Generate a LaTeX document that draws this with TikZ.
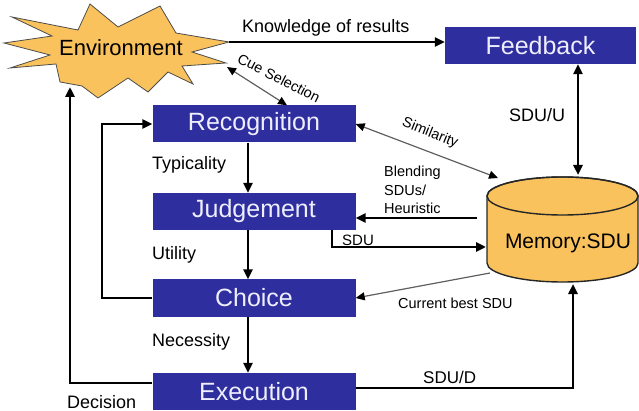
\documentclass[tikz,border=0pt]{standalone}
\usepackage{fontspec}
\setmainfont{Liberation Sans}
\usetikzlibrary{arrows.meta}

\definecolor{boxblue}{RGB}{46,46,158}
\definecolor{boxtext}{RGB}{238,238,255}
\definecolor{burst}{RGB}{250,194,92}
\definecolor{thinline}{RGB}{95,95,95}

\begin{document}
\begin{tikzpicture}[
  x=1pt, y=-1pt,
  >={Triangle[length=10pt,width=9pt]},
  stage/.style={rectangle,fill=boxblue,text=boxtext,minimum width=203pt,minimum height=37pt,inner sep=0pt,font=\fontsize{25}{28}\selectfont},
  lab/.style={anchor=west,inner sep=0pt,font=\fontsize{18}{20}\selectfont},
  small/.style={inner sep=0pt,font=\fontsize{14.5}{18.5}\selectfont},
  flow/.style={line width=2.6pt},
  link/.style={line width=1.2pt,draw=thinline,
    {Triangle[length=9pt,width=8pt,color=black]}-{Triangle[length=9pt,width=8pt,color=black]}}
]
\useasboundingbox (0,0) rectangle (639,411);

% environment burst
\filldraw[fill=burst,draw=black!70,line width=0.8pt]
  (229,42) -- (192,52) -- (226,63) -- (182,66) -- (193,84) -- (168,72) -- (148,92)
  -- (128,78) -- (98,98) -- (82,86) -- (60,82) -- (56,64) -- (10,68) -- (50,55)
  -- (4,43) -- (52,36) -- (12,17) -- (78,30) -- (90,4) -- (118,27) -- (160,6)
  -- (176,33) -- cycle;
\node[font=\fontsize{22}{24}\selectfont] (env) at (121,48) {Environment};
\coordinate (envR) at (229,42);
\coordinate (envC) at (227,67);
\coordinate (envD) at (70,87);

% memory cylinder
\filldraw[fill=burst,draw=black!85,line width=1.4pt]
  (487,196) -- (487,263) arc[start angle=180,end angle=360,x radius=75.5pt,y radius=19pt]
  -- (638,196) arc[start angle=0,end angle=180,x radius=75.5pt,y radius=19pt] -- cycle;
\draw[black!85,line width=1.4pt] (562.5,196) ellipse[x radius=75.5pt,y radius=19pt];
\node[font=\fontsize{21}{24}\selectfont] (mem) at (568,243) {Memory:SDU};
\coordinate (memT) at (578,175);
\coordinate (memL) at (498,178);
\coordinate (memB) at (477,218);
\coordinate (memS) at (486,247);
\coordinate (memC) at (490,273);
\coordinate (memD) at (573,284);

% stages
\node[stage,minimum width=191pt] (fb) at (540.5,45.5) {Feedback};
\node[stage] (rec) at (254,124) {Recognition};
\node[stage] (jud) at (254,211.5) {Judgement};
\node[stage] (cho) at (254,298) {Choice};
\node[stage] (exe) at (254,391.5) {Execution};
\coordinate (loopL) at (102,200);

% main chain
\foreach \a/\b in {rec/jud,jud/cho,cho/exe}
  \draw[flow,->] ([xshift=-6pt]\a.south) -- ([xshift=-6pt]\b.north);
\node[lab] at (152,165) {Typicality};
\node[lab] at (152,255) {Utility};
\node[lab] at (152,342) {Necessity};

% environment links
\draw[flow,->] (envR) -- (envR -| fb.west);
\node[lab] at (242,28) {Knowledge of results};
\draw[link] (envC) -- ([xshift=33pt]rec.north);
\node[small,rotate=-27] at (279,78) {Cue Selection};

% loops on the left
\draw[flow,->] ([yshift=8.5pt]exe.west) -| (envD);
\node[lab] at (67,402) {Decision};
\draw[flow,->] (cho.west) -- (cho.west -| loopL) |- (rec.west);

% memory links
\draw[flow,<->] (memT |- fb.south) -- (memT);
\node[lab] at (509,115) {SDU/U};
\draw[link] (rec.east) -- (memL);
\node[small,rotate=-22] at (430,133) {Similarity};
\draw[flow,->] (memB) -- (memB -| jud.east);
\node[small,anchor=west,align=left] at (384,190) {Blending\\SDUs/\\Heuristic};
\draw[flow,->] ([xshift=78pt]jud.south) |- (memS);
\node[small,anchor=west,font=\fontsize{15}{18}\selectfont] at (342,240) {SDU};
\draw[link,-{Triangle[length=9pt,width=8pt,color=black]}] (memC) -- (cho.east);
\node[small,anchor=west] at (398,303) {Current best SDU};
\draw[flow,->] ([yshift=3.5pt]exe.east) -| (memD);
\node[lab,font=\fontsize{17}{20}\selectfont] at (423,377) {SDU/D};
\end{tikzpicture}
\end{document}
